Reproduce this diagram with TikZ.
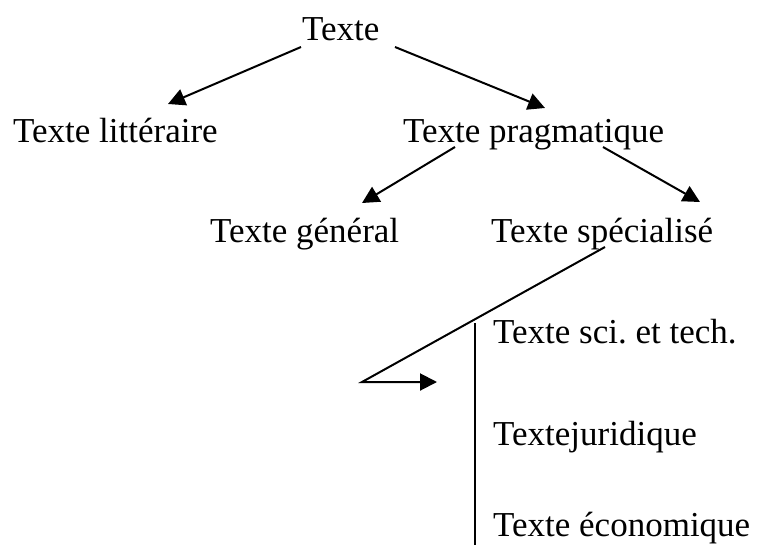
\documentclass[tikz,border=0pt]{standalone}
\usepackage{fontspec}
\setmainfont{Liberation Serif}
\usetikzlibrary{arrows.meta}
\frenchspacing
\begin{document}
\begin{tikzpicture}[x=1pt,y=-1pt,
  lbl/.style={anchor=base west,inner sep=0pt,font=\fontsize{35}{40}\selectfont},
  conn/.style={line width=2pt},
  arr/.style={conn,-{Triangle[length=17pt,width=17pt]}}]
\useasboundingbox (0,0) rectangle (759,546);
% nodes
\node[lbl] (top)  at (302,40)  {Texte};
\node[lbl] (litt) at (13,142)  {Texte littéraire};
\node[lbl] (prag) at (403,142) {Texte pragmatique};
\node[lbl] (gen)  at (210,242) {Texte général};
\node[lbl] (spec) at (491,242) {Texte spécialisé};
\node[lbl] (sci)  at (493,343) {Texte sci.\ et tech.};
\node[lbl] (jur)  at (493,445) {Textejuridique};
\node[lbl] (eco)  at (493,536) {Texte économique};
% connector ends
\coordinate (t1) at (301,47);
\coordinate (t2) at (395,47);
\coordinate (l1) at (168,104);
\coordinate (p1) at (545,108);
\coordinate (p2) at (455,147);
\coordinate (p3) at (603,147);
\coordinate (g1) at (362,203);
\coordinate (s1) at (700,202);
\coordinate (s2) at (605,247);
\coordinate (k)  at (362,382);
\coordinate (k2) at (437,382);
\coordinate (v1) at (475,323);
\coordinate (v2) at (475,545);
% connectors
\draw[arr] (t1) -- (l1);
\draw[arr] (t2) -- (p1);
\draw[arr] (p2) -- (g1);
\draw[arr] (p3) -- (s1);
\draw[arr] (s2) -- (k) -- (k2);
\draw[conn] (v1) -- (v2);
\end{tikzpicture}
\end{document}
